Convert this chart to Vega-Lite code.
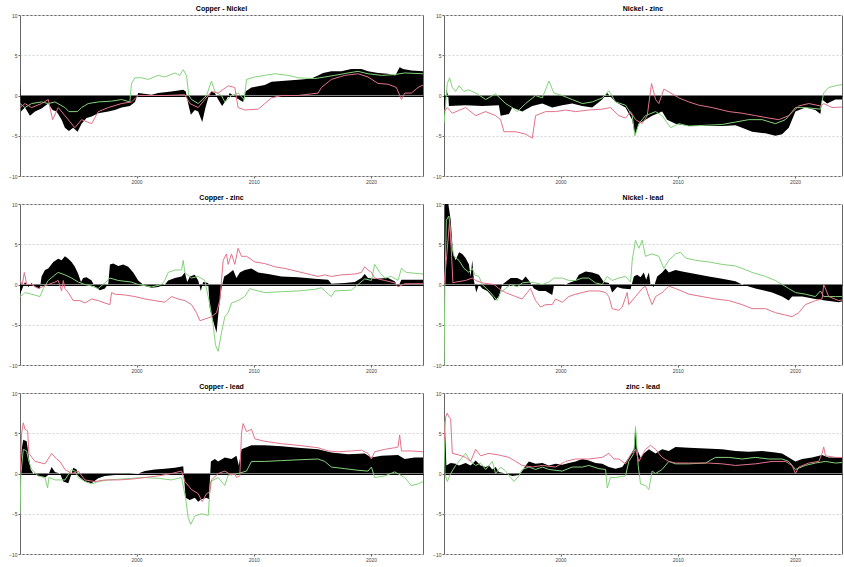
{
"$schema":"https://vega.github.io/schema/vega-lite/v6.json",
"padding":{"left":8,"top":4,"right":0,"bottom":0},
"background":"white",
"columns":2,
"spacing":{"row":8,"column":8},
"datasets":{
"cn_a":[{"t":1990.06,"v":2.0},{"t":1990.14,"v":-2.0},{"t":1990.48,"v":-1.5},{"t":1990.91,"v":-2.5},{"t":1991.34,"v":-2.0},{"t":1991.9,"v":-1.6},{"t":1992.47,"v":-1.0},{"t":1992.84,"v":-1.8},{"t":1993.18,"v":-2.0},{"t":1993.61,"v":-3.0},{"t":1993.89,"v":-4.0},{"t":1994.23,"v":-4.4},{"t":1994.6,"v":-4.0},{"t":1994.97,"v":-4.5},{"t":1995.31,"v":-3.5},{"t":1995.74,"v":-2.8},{"t":1996.17,"v":-2.6},{"t":1996.73,"v":-2.2},{"t":1997.59,"v":-2.0},{"t":1998.15,"v":-1.8},{"t":1998.72,"v":-1.5},{"t":1999.43,"v":-1.3},{"t":1999.86,"v":-0.8},{"t":2000.14,"v":0.3},{"t":2001.28,"v":0.1},{"t":2001.85,"v":0.3},{"t":2002.98,"v":0.5},{"t":2003.98,"v":0.7},{"t":2004.2,"v":0.5},{"t":2004.4,"v":-1.0},{"t":2004.63,"v":-2.4},{"t":2004.97,"v":-1.8},{"t":2005.26,"v":-2.0},{"t":2005.6,"v":-3.3},{"t":2005.88,"v":-1.5},{"t":2006.17,"v":0.0},{"t":2006.39,"v":0.5},{"t":2006.68,"v":0.3},{"t":2006.96,"v":-0.5},{"t":2007.3,"v":-1.3},{"t":2007.67,"v":-0.5},{"t":2007.95,"v":0.3},{"t":2008.24,"v":0.0},{"t":2008.52,"v":-0.3},{"t":2009.09,"v":-0.8},{"t":2009.29,"v":0.5},{"t":2009.8,"v":1.0},{"t":2010.94,"v":1.3},{"t":2011.51,"v":1.7},{"t":2012.36,"v":1.8},{"t":2013.21,"v":1.9},{"t":2014.06,"v":2.0},{"t":2014.91,"v":2.1},{"t":2015.48,"v":2.5},{"t":2015.91,"v":2.8},{"t":2016.62,"v":3.0},{"t":2017.47,"v":3.0},{"t":2018.32,"v":3.3},{"t":2019.18,"v":3.3},{"t":2019.74,"v":3.0},{"t":2020.6,"v":2.8},{"t":2021.45,"v":2.7},{"t":2022.07,"v":2.5},{"t":2022.44,"v":3.5},{"t":2022.73,"v":3.3},{"t":2023.44,"v":3.1},{"t":2024.43,"v":3.0}],
"cn_g":[{"t":1990.06,"v":-1.0},{"t":1990.48,"v":-1.5},{"t":1991.05,"v":-1.0},{"t":1991.9,"v":-0.8},{"t":1992.47,"v":-1.0},{"t":1993.04,"v":-0.8},{"t":1993.89,"v":-1.5},{"t":1994.23,"v":-2.0},{"t":1994.97,"v":-2.0},{"t":1995.31,"v":-1.5},{"t":1995.88,"v":-1.0},{"t":1996.73,"v":-0.8},{"t":1997.87,"v":-0.7},{"t":1998.72,"v":-0.5},{"t":1999.43,"v":-0.8},{"t":1999.57,"v":1.5},{"t":1999.86,"v":2.2},{"t":2000.43,"v":2.2},{"t":2000.99,"v":2.0},{"t":2001.85,"v":2.5},{"t":2002.41,"v":2.3},{"t":2003.27,"v":2.8},{"t":2003.69,"v":2.5},{"t":2003.98,"v":3.2},{"t":2004.26,"v":2.5},{"t":2004.46,"v":0.0},{"t":2004.69,"v":-0.5},{"t":2005.26,"v":-1.0},{"t":2005.97,"v":0.0},{"t":2006.39,"v":1.8},{"t":2006.68,"v":0.5},{"t":2007.24,"v":0.0},{"t":2007.53,"v":-0.8},{"t":2008.1,"v":0.0},{"t":2008.66,"v":0.3},{"t":2009.18,"v":-0.5},{"t":2009.38,"v":2.0},{"t":2010.09,"v":2.3},{"t":2010.94,"v":2.5},{"t":2011.79,"v":2.7},{"t":2012.93,"v":2.5},{"t":2013.78,"v":2.2},{"t":2015.2,"v":2.1},{"t":2016.05,"v":2.3},{"t":2016.9,"v":2.5},{"t":2018.04,"v":2.8},{"t":2018.89,"v":3.0},{"t":2019.74,"v":2.7},{"t":2020.88,"v":2.5},{"t":2022.02,"v":2.6},{"t":2022.87,"v":2.8},{"t":2024.43,"v":2.7}],
"cn_r":[{"t":1990.06,"v":-1.5},{"t":1990.48,"v":-1.0},{"t":1991.05,"v":-1.5},{"t":1991.9,"v":-1.0},{"t":1992.47,"v":-0.5},{"t":1992.84,"v":-3.0},{"t":1993.32,"v":-1.5},{"t":1993.89,"v":-2.5},{"t":1994.74,"v":-4.0},{"t":1995.31,"v":-3.0},{"t":1996.17,"v":-3.5},{"t":1996.73,"v":-2.0},{"t":1997.59,"v":-1.5},{"t":1998.72,"v":-1.0},{"t":1999.57,"v":-0.8},{"t":2000.14,"v":0.0},{"t":2002.41,"v":0.0},{"t":2004.12,"v":0.1},{"t":2004.55,"v":-1.0},{"t":2005.26,"v":-1.5},{"t":2005.82,"v":-0.5},{"t":2006.39,"v":0.5},{"t":2006.96,"v":0.3},{"t":2007.81,"v":1.2},{"t":2008.38,"v":1.0},{"t":2008.66,"v":-1.5},{"t":2009.23,"v":-1.8},{"t":2010.37,"v":-1.7},{"t":2010.94,"v":-1.0},{"t":2011.51,"v":-0.3},{"t":2012.36,"v":0.0},{"t":2013.78,"v":0.0},{"t":2014.91,"v":0.2},{"t":2015.48,"v":0.3},{"t":2015.77,"v":1.0},{"t":2016.62,"v":2.0},{"t":2017.76,"v":2.5},{"t":2018.89,"v":2.7},{"t":2019.74,"v":2.3},{"t":2020.6,"v":1.5},{"t":2021.45,"v":1.4},{"t":2022.16,"v":1.0},{"t":2022.59,"v":-0.5},{"t":2022.87,"v":0.3},{"t":2023.44,"v":0.3},{"t":2024.01,"v":1.0},{"t":2024.43,"v":1.3}],
"nz_a":[{"t":1990.06,"v":-3.5},{"t":1990.26,"v":0.8},{"t":1990.43,"v":-0.2},{"t":1990.48,"v":-1.3},{"t":1991.9,"v":-1.2},{"t":1993.32,"v":-1.3},{"t":1994.74,"v":-1.2},{"t":1994.89,"v":-2.5},{"t":1995.6,"v":-2.3},{"t":1995.88,"v":-1.5},{"t":1996.73,"v":-2.0},{"t":1997.59,"v":-1.3},{"t":1998.44,"v":-1.0},{"t":1999.29,"v":-1.5},{"t":2000.14,"v":-1.2},{"t":2000.99,"v":-1.0},{"t":2001.85,"v":-1.3},{"t":2002.7,"v":-1.5},{"t":2003.55,"v":-0.5},{"t":2003.98,"v":0.3},{"t":2004.69,"v":-0.8},{"t":2005.54,"v":-1.5},{"t":2006.11,"v":-3.0},{"t":2006.34,"v":-5.0},{"t":2006.68,"v":-3.5},{"t":2007.24,"v":-3.0},{"t":2007.81,"v":-2.5},{"t":2008.66,"v":-2.0},{"t":2009.09,"v":-3.0},{"t":2009.8,"v":-3.5},{"t":2010.94,"v":-3.8},{"t":2012.36,"v":-3.8},{"t":2013.78,"v":-3.8},{"t":2014.91,"v":-3.7},{"t":2015.48,"v":-4.0},{"t":2016.34,"v":-4.5},{"t":2017.47,"v":-4.7},{"t":2018.32,"v":-5.0},{"t":2018.89,"v":-4.8},{"t":2019.46,"v":-4.0},{"t":2020.03,"v":-2.0},{"t":2020.88,"v":-1.5},{"t":2021.73,"v":-1.8},{"t":2022.16,"v":-2.3},{"t":2022.3,"v":-0.5},{"t":2022.73,"v":-1.0},{"t":2023.44,"v":-0.5},{"t":2024.43,"v":-0.5}],
"nz_g":[{"t":1990.06,"v":-3.5},{"t":1990.34,"v":1.5},{"t":1990.54,"v":2.2},{"t":1990.77,"v":1.0},{"t":1991.05,"v":0.5},{"t":1991.34,"v":1.2},{"t":1991.76,"v":0.5},{"t":1992.19,"v":0.7},{"t":1992.9,"v":0.2},{"t":1993.61,"v":-0.5},{"t":1994.46,"v":0.2},{"t":1995.31,"v":-1.0},{"t":1995.88,"v":-1.5},{"t":1996.31,"v":-2.0},{"t":1997.02,"v":-1.0},{"t":1997.87,"v":0.0},{"t":1998.44,"v":-0.3},{"t":1999.01,"v":1.8},{"t":1999.43,"v":0.3},{"t":2000.14,"v":0.0},{"t":2000.99,"v":-0.5},{"t":2001.85,"v":-1.0},{"t":2002.7,"v":-0.8},{"t":2003.55,"v":-0.3},{"t":2004.12,"v":0.6},{"t":2004.69,"v":-0.8},{"t":2005.54,"v":-1.2},{"t":2006.11,"v":-2.5},{"t":2006.34,"v":-5.0},{"t":2006.68,"v":-3.5},{"t":2007.24,"v":-2.5},{"t":2008.1,"v":-2.0},{"t":2008.66,"v":-2.5},{"t":2009.38,"v":-4.0},{"t":2010.09,"v":-3.5},{"t":2010.94,"v":-3.8},{"t":2012.36,"v":-3.7},{"t":2013.78,"v":-3.6},{"t":2014.91,"v":-3.3},{"t":2016.05,"v":-3.0},{"t":2017.19,"v":-3.0},{"t":2018.32,"v":-3.5},{"t":2019.18,"v":-3.0},{"t":2020.03,"v":-1.5},{"t":2020.88,"v":-1.5},{"t":2022.16,"v":-1.7},{"t":2022.44,"v":0.3},{"t":2022.87,"v":1.0},{"t":2023.72,"v":1.3},{"t":2024.43,"v":1.4}],
"nz_r":[{"t":1990.06,"v":-2.0},{"t":1990.34,"v":-1.5},{"t":1990.77,"v":-2.2},{"t":1991.9,"v":-1.5},{"t":1992.76,"v":-2.5},{"t":1993.61,"v":-2.0},{"t":1994.46,"v":-2.5},{"t":1994.89,"v":-3.0},{"t":1995.17,"v":-4.5},{"t":1996.17,"v":-4.5},{"t":1997.02,"v":-4.8},{"t":1997.59,"v":-5.3},{"t":1997.87,"v":-2.5},{"t":1998.72,"v":-2.0},{"t":1999.57,"v":-2.0},{"t":2000.43,"v":-1.8},{"t":2001.28,"v":-2.0},{"t":2002.41,"v":-1.8},{"t":2003.55,"v":-1.7},{"t":2004.26,"v":-1.5},{"t":2004.97,"v":-2.5},{"t":2005.54,"v":-2.8},{"t":2005.97,"v":-2.0},{"t":2006.39,"v":-3.0},{"t":2006.96,"v":-3.5},{"t":2007.39,"v":-2.5},{"t":2007.76,"v":1.5},{"t":2008.1,"v":-0.5},{"t":2008.38,"v":-1.0},{"t":2008.81,"v":0.8},{"t":2009.52,"v":0.2},{"t":2010.09,"v":-0.3},{"t":2010.94,"v":-0.8},{"t":2011.79,"v":-1.2},{"t":2012.93,"v":-1.5},{"t":2014.35,"v":-2.0},{"t":2015.48,"v":-2.2},{"t":2016.62,"v":-2.5},{"t":2017.76,"v":-2.8},{"t":2018.61,"v":-3.0},{"t":2019.46,"v":-2.5},{"t":2020.31,"v":-1.3},{"t":2021.17,"v":-1.0},{"t":2022.16,"v":-1.3},{"t":2022.44,"v":-1.0},{"t":2023.15,"v":-1.5},{"t":2024.43,"v":-1.4}],
"cz_a":[{"t":1990.06,"v":-1.2},{"t":1990.26,"v":-0.5},{"t":1990.48,"v":0.3},{"t":1990.77,"v":-0.3},{"t":1991.05,"v":0.2},{"t":1991.34,"v":-0.3},{"t":1991.76,"v":-0.5},{"t":1991.9,"v":1.0},{"t":1992.19,"v":1.8},{"t":1992.47,"v":2.0},{"t":1992.9,"v":2.8},{"t":1993.32,"v":3.2},{"t":1993.61,"v":3.0},{"t":1993.89,"v":3.5},{"t":1994.18,"v":3.2},{"t":1994.46,"v":2.8},{"t":1994.74,"v":2.2},{"t":1995.03,"v":1.3},{"t":1995.26,"v":0.3},{"t":1995.45,"v":0.8},{"t":1995.74,"v":0.9},{"t":1996.17,"v":0.5},{"t":1996.45,"v":-0.3},{"t":1996.88,"v":-0.7},{"t":1997.3,"v":-0.5},{"t":1997.59,"v":0.1},{"t":1997.73,"v":2.5},{"t":1998.01,"v":2.6},{"t":1998.44,"v":2.3},{"t":1998.86,"v":2.5},{"t":1999.29,"v":2.2},{"t":1999.72,"v":1.5},{"t":2000.14,"v":0.5},{"t":2000.71,"v":-0.2},{"t":2001.28,"v":-0.4},{"t":2001.85,"v":-0.3},{"t":2002.41,"v":0.0},{"t":2002.7,"v":0.5},{"t":2003.27,"v":0.8},{"t":2003.84,"v":1.0},{"t":2004.12,"v":1.5},{"t":2004.32,"v":0.3},{"t":2004.55,"v":1.0},{"t":2004.97,"v":1.2},{"t":2005.26,"v":0.5},{"t":2005.48,"v":-0.8},{"t":2005.68,"v":0.3},{"t":2006.11,"v":0.2},{"t":2006.25,"v":-3.0},{"t":2006.53,"v":-4.5},{"t":2006.82,"v":-6.0},{"t":2007.02,"v":-3.0},{"t":2007.24,"v":-0.5},{"t":2007.47,"v":1.0},{"t":2007.81,"v":1.3},{"t":2008.24,"v":1.8},{"t":2008.52,"v":0.8},{"t":2008.81,"v":1.5},{"t":2009.23,"v":1.8},{"t":2009.8,"v":2.0},{"t":2010.37,"v":1.5},{"t":2011.22,"v":1.3},{"t":2012.36,"v":1.0},{"t":2013.78,"v":0.9},{"t":2015.2,"v":0.7},{"t":2016.34,"v":0.6},{"t":2016.62,"v":0.1},{"t":2017.76,"v":0.2},{"t":2018.61,"v":0.3},{"t":2019.18,"v":0.8},{"t":2019.46,"v":1.3},{"t":2019.74,"v":0.8},{"t":2020.31,"v":0.7},{"t":2021.45,"v":0.8},{"t":2022.02,"v":0.4},{"t":2022.3,"v":-0.3},{"t":2022.59,"v":0.6},{"t":2023.44,"v":0.6},{"t":2024.43,"v":0.6}],
"cz_g":[{"t":1990.06,"v":-1.5},{"t":1990.26,"v":-1.3},{"t":1990.48,"v":-1.0},{"t":1991.05,"v":-1.2},{"t":1991.76,"v":-1.5},{"t":1992.05,"v":-0.5},{"t":1992.47,"v":0.5},{"t":1993.04,"v":1.2},{"t":1993.32,"v":1.5},{"t":1993.89,"v":1.2},{"t":1994.46,"v":0.8},{"t":1995.03,"v":0.3},{"t":1995.6,"v":0.0},{"t":1996.17,"v":-0.2},{"t":1996.73,"v":-0.5},{"t":1997.3,"v":0.2},{"t":1997.73,"v":0.8},{"t":1998.44,"v":0.5},{"t":1999.57,"v":0.3},{"t":2000.14,"v":0.0},{"t":2001.28,"v":-0.3},{"t":2002.13,"v":0.0},{"t":2002.41,"v":0.5},{"t":2002.7,"v":1.5},{"t":2003.27,"v":1.8},{"t":2003.84,"v":1.8},{"t":2003.98,"v":3.0},{"t":2004.12,"v":1.5},{"t":2004.69,"v":0.8},{"t":2005.26,"v":1.0},{"t":2005.82,"v":0.5},{"t":2006.25,"v":-2.5},{"t":2006.53,"v":-5.0},{"t":2006.73,"v":-7.5},{"t":2006.96,"v":-8.3},{"t":2007.24,"v":-6.0},{"t":2007.53,"v":-4.0},{"t":2007.81,"v":-3.5},{"t":2008.1,"v":-2.3},{"t":2008.66,"v":-2.0},{"t":2009.23,"v":-1.5},{"t":2009.66,"v":-0.5},{"t":2010.09,"v":-0.7},{"t":2010.94,"v":-1.0},{"t":2012.36,"v":-0.9},{"t":2013.78,"v":-0.8},{"t":2015.2,"v":-0.6},{"t":2015.77,"v":-0.4},{"t":2016.34,"v":-1.2},{"t":2016.62,"v":-1.5},{"t":2016.9,"v":-0.8},{"t":2018.32,"v":-0.7},{"t":2018.89,"v":0.0},{"t":2019.46,"v":0.7},{"t":2020.03,"v":0.5},{"t":2020.31,"v":2.5},{"t":2020.74,"v":1.5},{"t":2021.17,"v":0.8},{"t":2021.73,"v":1.0},{"t":2022.3,"v":0.5},{"t":2022.59,"v":2.0},{"t":2023.01,"v":1.5},{"t":2024.43,"v":1.3}],
"cz_r":[{"t":1990.06,"v":0.5},{"t":1990.26,"v":0.0},{"t":1990.43,"v":1.5},{"t":1990.63,"v":0.0},{"t":1991.05,"v":0.0},{"t":1991.62,"v":-0.5},{"t":1992.47,"v":0.0},{"t":1993.04,"v":0.3},{"t":1993.32,"v":0.5},{"t":1993.61,"v":-0.8},{"t":1993.75,"v":0.5},{"t":1993.89,"v":-0.5},{"t":1994.18,"v":-1.0},{"t":1994.6,"v":-2.0},{"t":1995.17,"v":-2.0},{"t":1995.6,"v":-2.3},{"t":1996.17,"v":-1.8},{"t":1996.73,"v":-2.0},{"t":1997.3,"v":-2.3},{"t":1997.73,"v":-2.5},{"t":1997.87,"v":-1.0},{"t":1998.15,"v":-1.2},{"t":1999.01,"v":-1.3},{"t":1999.86,"v":-1.5},{"t":2000.71,"v":-1.8},{"t":2001.56,"v":-2.0},{"t":2002.41,"v":-2.2},{"t":2002.98,"v":-1.5},{"t":2003.55,"v":-1.8},{"t":2004.12,"v":-2.0},{"t":2004.69,"v":-2.5},{"t":2005.11,"v":-3.5},{"t":2005.4,"v":-4.5},{"t":2005.82,"v":-4.3},{"t":2006.39,"v":-4.0},{"t":2006.82,"v":-3.5},{"t":2007.1,"v":-2.0},{"t":2007.39,"v":3.0},{"t":2007.67,"v":3.8},{"t":2007.81,"v":2.5},{"t":2008.1,"v":3.8},{"t":2008.38,"v":2.5},{"t":2008.66,"v":4.5},{"t":2008.95,"v":3.5},{"t":2009.38,"v":3.5},{"t":2010.09,"v":2.8},{"t":2010.94,"v":2.6},{"t":2011.79,"v":2.2},{"t":2012.64,"v":2.0},{"t":2013.78,"v":1.6},{"t":2014.91,"v":1.2},{"t":2015.48,"v":1.0},{"t":2016.05,"v":1.2},{"t":2016.62,"v":1.0},{"t":2017.47,"v":1.2},{"t":2018.61,"v":1.3},{"t":2019.18,"v":1.5},{"t":2019.46,"v":2.2},{"t":2019.74,"v":1.8},{"t":2020.03,"v":1.5},{"t":2020.31,"v":0.8},{"t":2021.17,"v":0.5},{"t":2022.02,"v":0.2},{"t":2022.3,"v":-0.3},{"t":2022.87,"v":0.1},{"t":2024.43,"v":0.1}],
"nl_a":[{"t":1990.06,"v":0.0},{"t":1990.14,"v":10},{"t":1990.43,"v":10},{"t":1990.63,"v":8.0},{"t":1990.82,"v":4.0},{"t":1991.05,"v":3.0},{"t":1991.34,"v":4.0},{"t":1991.62,"v":3.8},{"t":1991.9,"v":3.3},{"t":1992.19,"v":2.5},{"t":1992.33,"v":1.0},{"t":1992.47,"v":3.0},{"t":1992.61,"v":0.5},{"t":1992.81,"v":-1.0},{"t":1993.04,"v":0.0},{"t":1993.32,"v":-0.5},{"t":1993.75,"v":-0.8},{"t":1994.18,"v":-1.5},{"t":1994.4,"v":-2.0},{"t":1994.74,"v":-1.5},{"t":1995.03,"v":0.0},{"t":1995.31,"v":0.3},{"t":1995.74,"v":0.8},{"t":1996.31,"v":0.8},{"t":1996.73,"v":0.5},{"t":1997.02,"v":1.0},{"t":1997.3,"v":0.5},{"t":1997.73,"v":-0.5},{"t":1998.15,"v":-0.8},{"t":1998.72,"v":-0.8},{"t":1999.29,"v":-1.3},{"t":1999.43,"v":-0.2},{"t":2000.14,"v":-0.2},{"t":2000.71,"v":0.2},{"t":2001.28,"v":0.5},{"t":2001.56,"v":1.2},{"t":2002.13,"v":1.6},{"t":2002.7,"v":1.5},{"t":2003.27,"v":1.2},{"t":2003.69,"v":0.3},{"t":2004.12,"v":0.2},{"t":2004.4,"v":-1.0},{"t":2004.83,"v":-0.3},{"t":2005.26,"v":-0.5},{"t":2005.97,"v":-0.6},{"t":2006.25,"v":1.0},{"t":2006.53,"v":1.2},{"t":2006.82,"v":0.9},{"t":2007.1,"v":1.5},{"t":2007.3,"v":0.6},{"t":2007.53,"v":1.5},{"t":2007.67,"v":0.0},{"t":2007.95,"v":-0.3},{"t":2008.24,"v":1.0},{"t":2008.66,"v":1.5},{"t":2008.95,"v":2.0},{"t":2009.23,"v":1.5},{"t":2009.8,"v":1.8},{"t":2010.37,"v":1.6},{"t":2011.51,"v":1.3},{"t":2012.64,"v":1.0},{"t":2013.78,"v":0.7},{"t":2014.91,"v":0.4},{"t":2015.48,"v":0.0},{"t":2016.62,"v":-0.5},{"t":2018.04,"v":-1.0},{"t":2018.89,"v":-1.5},{"t":2019.46,"v":-2.0},{"t":2019.74,"v":-1.5},{"t":2020.6,"v":-1.5},{"t":2021.73,"v":-1.8},{"t":2022.59,"v":-2.0},{"t":2023.72,"v":-2.2},{"t":2024.43,"v":-2.0}],
"nl_g":[{"t":1990.06,"v":-10},{"t":1990.14,"v":0},{"t":1990.26,"v":8},{"t":1990.48,"v":8.5},{"t":1990.71,"v":5},{"t":1990.91,"v":3.5},{"t":1991.34,"v":3.0},{"t":1991.76,"v":2.0},{"t":1992.19,"v":1.5},{"t":1992.47,"v":2.0},{"t":1992.7,"v":1.2},{"t":1993.04,"v":1.0},{"t":1993.32,"v":0.0},{"t":1993.89,"v":-0.8},{"t":1994.32,"v":-1.5},{"t":1994.6,"v":-2.0},{"t":1994.89,"v":-1.0},{"t":1995.31,"v":-0.5},{"t":1995.74,"v":0.0},{"t":1996.31,"v":-0.3},{"t":1996.73,"v":0.2},{"t":1997.3,"v":0.3},{"t":1997.87,"v":0.2},{"t":1998.44,"v":0.0},{"t":1999.01,"v":0.3},{"t":1999.43,"v":0.8},{"t":2000.14,"v":0.8},{"t":2000.71,"v":0.5},{"t":2001.28,"v":0.5},{"t":2001.85,"v":0.8},{"t":2002.41,"v":0.8},{"t":2002.98,"v":0.2},{"t":2003.55,"v":0.0},{"t":2003.98,"v":1.0},{"t":2004.4,"v":0.5},{"t":2004.97,"v":0.8},{"t":2005.54,"v":1.0},{"t":2005.97,"v":0.3},{"t":2006.11,"v":3.0},{"t":2006.39,"v":5.5},{"t":2006.68,"v":4.5},{"t":2006.96,"v":5.5},{"t":2007.24,"v":3.5},{"t":2007.81,"v":3.8},{"t":2008.38,"v":3.5},{"t":2008.81,"v":2.0},{"t":2009.23,"v":3.0},{"t":2009.8,"v":3.8},{"t":2010.23,"v":4.0},{"t":2010.65,"v":3.3},{"t":2011.51,"v":3.0},{"t":2012.64,"v":2.8},{"t":2013.78,"v":2.5},{"t":2014.91,"v":2.3},{"t":2015.48,"v":2.0},{"t":2016.34,"v":1.5},{"t":2017.47,"v":1.0},{"t":2018.32,"v":0.5},{"t":2018.89,"v":0.0},{"t":2019.46,"v":-0.5},{"t":2020.03,"v":-1.0},{"t":2020.88,"v":-1.2},{"t":2021.73,"v":-1.5},{"t":2022.16,"v":-0.8},{"t":2022.44,"v":-1.5},{"t":2023.44,"v":-1.5},{"t":2024.43,"v":-1.5}],
"nl_r":[{"t":1990.06,"v":0.0},{"t":1990.26,"v":3.0},{"t":1990.54,"v":8.0},{"t":1990.71,"v":3.5},{"t":1990.82,"v":0.2},{"t":1991.05,"v":0.3},{"t":1991.9,"v":0.5},{"t":1992.47,"v":0.8},{"t":1992.76,"v":0.5},{"t":1993.32,"v":0.2},{"t":1994.32,"v":0.0},{"t":1994.74,"v":-0.5},{"t":1995.31,"v":-1.0},{"t":1996.17,"v":-1.5},{"t":1996.73,"v":-1.8},{"t":1997.16,"v":-1.0},{"t":1997.44,"v":-0.5},{"t":1997.87,"v":-2.0},{"t":1998.3,"v":-2.8},{"t":1998.72,"v":-2.5},{"t":1999.29,"v":-2.5},{"t":1999.57,"v":-1.8},{"t":2000.14,"v":-2.2},{"t":2000.71,"v":-1.5},{"t":2001.28,"v":-1.2},{"t":2001.85,"v":-1.0},{"t":2002.41,"v":-0.8},{"t":2003.27,"v":-0.8},{"t":2003.84,"v":-1.0},{"t":2004.12,"v":-1.5},{"t":2004.4,"v":-3.0},{"t":2004.97,"v":-3.2},{"t":2005.26,"v":-2.8},{"t":2005.68,"v":-1.0},{"t":2005.82,"v":-2.5},{"t":2006.39,"v":-1.5},{"t":2006.96,"v":-0.5},{"t":2007.24,"v":-0.2},{"t":2007.53,"v":-1.5},{"t":2007.81,"v":-2.5},{"t":2008.1,"v":-1.5},{"t":2008.66,"v":-1.0},{"t":2009.23,"v":-0.2},{"t":2009.8,"v":-0.5},{"t":2010.94,"v":-1.2},{"t":2012.07,"v":-1.5},{"t":2013.21,"v":-1.8},{"t":2014.35,"v":-2.0},{"t":2015.48,"v":-2.5},{"t":2016.34,"v":-3.0},{"t":2017.47,"v":-3.0},{"t":2018.32,"v":-3.5},{"t":2019.18,"v":-3.8},{"t":2019.74,"v":-4.0},{"t":2020.31,"v":-3.5},{"t":2020.88,"v":-2.5},{"t":2021.73,"v":-2.0},{"t":2022.3,"v":-1.8},{"t":2022.44,"v":0.0},{"t":2022.87,"v":-1.5},{"t":2023.72,"v":-2.0},{"t":2024.43,"v":-1.8}],
"cl_a":[{"t":1990.06,"v":-0.3},{"t":1990.2,"v":3.0},{"t":1990.34,"v":4.2},{"t":1990.63,"v":4.0},{"t":1990.82,"v":2.0},{"t":1990.97,"v":0.5},{"t":1991.19,"v":0.0},{"t":1991.62,"v":-0.3},{"t":1992.19,"v":-0.5},{"t":1992.47,"v":-0.2},{"t":1992.76,"v":0.8},{"t":1993.04,"v":0.2},{"t":1993.47,"v":0.0},{"t":1993.75,"v":-1.0},{"t":1994.18,"v":-1.2},{"t":1994.46,"v":0.0},{"t":1994.6,"v":0.7},{"t":1994.89,"v":0.5},{"t":1995.03,"v":-0.3},{"t":1995.6,"v":-1.0},{"t":1996.17,"v":-1.2},{"t":1996.73,"v":-0.6},{"t":1997.3,"v":-0.3},{"t":1998.15,"v":-0.2},{"t":1999.01,"v":-0.1},{"t":2000.14,"v":0.0},{"t":2000.71,"v":0.3},{"t":2001.56,"v":0.5},{"t":2002.41,"v":0.6},{"t":2003.27,"v":0.7},{"t":2003.98,"v":0.9},{"t":2004.18,"v":-3.0},{"t":2004.55,"v":-3.3},{"t":2004.97,"v":-3.0},{"t":2005.26,"v":-3.5},{"t":2005.54,"v":-3.2},{"t":2005.97,"v":-3.0},{"t":2006.17,"v":-3.2},{"t":2006.34,"v":1.5},{"t":2006.68,"v":1.8},{"t":2006.96,"v":1.5},{"t":2007.53,"v":2.0},{"t":2008.1,"v":1.8},{"t":2008.52,"v":2.2},{"t":2008.72,"v":1.0},{"t":2008.95,"v":3.0},{"t":2009.8,"v":3.5},{"t":2010.94,"v":3.5},{"t":2012.36,"v":3.4},{"t":2013.78,"v":3.2},{"t":2015.48,"v":3.0},{"t":2016.62,"v":2.6},{"t":2018.04,"v":2.4},{"t":2019.46,"v":2.5},{"t":2020.03,"v":2.0},{"t":2020.88,"v":2.2},{"t":2022.3,"v":2.3},{"t":2022.87,"v":1.8},{"t":2023.72,"v":2.0},{"t":2024.43,"v":2.0}],
"cl_g":[{"t":1990.06,"v":-5.0},{"t":1990.14,"v":0.0},{"t":1990.34,"v":3.0},{"t":1990.63,"v":2.8},{"t":1990.82,"v":1.5},{"t":1991.05,"v":0.5},{"t":1991.62,"v":-0.3},{"t":1992.19,"v":-0.5},{"t":1992.41,"v":-1.8},{"t":1992.53,"v":-0.5},{"t":1993.04,"v":-0.8},{"t":1993.89,"v":-0.8},{"t":1994.46,"v":0.5},{"t":1994.74,"v":0.3},{"t":1995.03,"v":-0.5},{"t":1995.6,"v":-1.0},{"t":1996.17,"v":-1.3},{"t":1996.73,"v":-1.0},{"t":1997.59,"v":-0.8},{"t":1999.57,"v":-0.6},{"t":2000.71,"v":-0.5},{"t":2001.85,"v":-0.6},{"t":2002.98,"v":-0.8},{"t":2003.84,"v":-0.5},{"t":2004.18,"v":-3.0},{"t":2004.4,"v":-5.5},{"t":2004.63,"v":-6.3},{"t":2004.97,"v":-5.3},{"t":2005.54,"v":-5.0},{"t":2006.11,"v":-5.2},{"t":2006.31,"v":-1.0},{"t":2006.96,"v":-0.5},{"t":2007.53,"v":-1.5},{"t":2007.81,"v":-0.2},{"t":2008.66,"v":0.0},{"t":2009.38,"v":0.3},{"t":2009.8,"v":1.5},{"t":2010.94,"v":1.5},{"t":2012.36,"v":1.6},{"t":2013.78,"v":1.7},{"t":2015.48,"v":1.8},{"t":2016.05,"v":1.5},{"t":2016.62,"v":0.8},{"t":2017.76,"v":0.6},{"t":2018.89,"v":0.4},{"t":2019.74,"v":0.3},{"t":2020.03,"v":0.8},{"t":2020.31,"v":-0.5},{"t":2021.17,"v":-0.3},{"t":2022.02,"v":0.2},{"t":2022.87,"v":-0.5},{"t":2023.44,"v":-1.5},{"t":2024.01,"v":-1.3},{"t":2024.43,"v":-1.0}],
"cl_r":[{"t":1990.06,"v":0.0},{"t":1990.2,"v":5.0},{"t":1990.34,"v":6.3},{"t":1990.48,"v":5.5},{"t":1990.71,"v":5.3},{"t":1990.82,"v":2.5},{"t":1991.34,"v":1.5},{"t":1992.19,"v":1.2},{"t":1992.76,"v":2.5},{"t":1993.18,"v":1.8},{"t":1993.47,"v":1.5},{"t":1993.89,"v":0.5},{"t":1994.46,"v":0.0},{"t":1995.03,"v":0.3},{"t":1995.6,"v":-0.8},{"t":1996.45,"v":-1.0},{"t":1997.3,"v":-0.8},{"t":1998.44,"v":-0.8},{"t":1999.57,"v":-0.7},{"t":2000.71,"v":-0.5},{"t":2001.85,"v":-0.3},{"t":2002.98,"v":0.0},{"t":2003.84,"v":0.3},{"t":2004.12,"v":-1.0},{"t":2004.69,"v":-2.0},{"t":2005.26,"v":-2.5},{"t":2005.6,"v":-3.5},{"t":2005.97,"v":-2.5},{"t":2006.25,"v":-2.3},{"t":2006.39,"v":-0.8},{"t":2006.96,"v":0.0},{"t":2007.53,"v":0.3},{"t":2008.1,"v":-0.2},{"t":2008.38,"v":0.0},{"t":2008.52,"v":-0.5},{"t":2008.81,"v":-0.3},{"t":2008.95,"v":5.0},{"t":2009.09,"v":6.2},{"t":2009.38,"v":5.2},{"t":2009.8,"v":5.5},{"t":2010.09,"v":4.3},{"t":2010.94,"v":4.0},{"t":2012.36,"v":3.7},{"t":2013.78,"v":3.5},{"t":2015.48,"v":3.2},{"t":2016.34,"v":2.8},{"t":2017.19,"v":2.7},{"t":2018.32,"v":2.8},{"t":2019.18,"v":2.9},{"t":2019.74,"v":2.5},{"t":2020.03,"v":1.8},{"t":2020.31,"v":2.7},{"t":2021.17,"v":3.0},{"t":2022.02,"v":3.2},{"t":2022.3,"v":3.3},{"t":2022.44,"v":4.8},{"t":2022.59,"v":2.8},{"t":2023.44,"v":2.8},{"t":2024.43,"v":2.7}],
"zl_a":[{"t":1990.06,"v":0.0},{"t":1990.14,"v":6.0},{"t":1990.26,"v":1.0},{"t":1990.63,"v":1.3},{"t":1991.05,"v":1.2},{"t":1991.34,"v":1.0},{"t":1991.9,"v":1.3},{"t":1992.33,"v":1.0},{"t":1992.76,"v":1.6},{"t":1993.18,"v":1.0},{"t":1993.61,"v":0.8},{"t":1993.89,"v":1.0},{"t":1994.18,"v":0.5},{"t":1994.46,"v":0.8},{"t":1994.74,"v":0.2},{"t":1995.31,"v":0.0},{"t":1995.88,"v":-0.3},{"t":1996.45,"v":-0.2},{"t":1996.73,"v":0.3},{"t":1997.02,"v":1.0},{"t":1997.3,"v":1.5},{"t":1997.87,"v":1.2},{"t":1998.44,"v":1.3},{"t":1999.01,"v":1.0},{"t":1999.57,"v":1.2},{"t":2000.14,"v":1.1},{"t":2000.71,"v":1.3},{"t":2001.28,"v":1.5},{"t":2001.85,"v":1.8},{"t":2002.41,"v":1.6},{"t":2002.98,"v":1.3},{"t":2003.55,"v":1.2},{"t":2004.12,"v":0.8},{"t":2004.69,"v":0.6},{"t":2005.26,"v":0.8},{"t":2005.82,"v":2.0},{"t":2006.25,"v":3.0},{"t":2006.39,"v":6.0},{"t":2006.53,"v":3.0},{"t":2006.82,"v":2.0},{"t":2007.1,"v":2.5},{"t":2007.53,"v":3.0},{"t":2008.1,"v":2.5},{"t":2008.66,"v":3.0},{"t":2009.23,"v":2.8},{"t":2009.8,"v":3.3},{"t":2010.94,"v":3.2},{"t":2012.36,"v":3.1},{"t":2013.78,"v":3.0},{"t":2014.91,"v":2.8},{"t":2016.05,"v":2.7},{"t":2017.19,"v":2.8},{"t":2018.32,"v":2.6},{"t":2018.89,"v":2.5},{"t":2019.46,"v":2.0},{"t":2020.03,"v":1.5},{"t":2020.6,"v":1.8},{"t":2021.45,"v":2.0},{"t":2022.3,"v":2.3},{"t":2022.87,"v":2.0},{"t":2024.43,"v":2.0}],
"zl_g":[{"t":1990.06,"v":6.5},{"t":1990.14,"v":0.0},{"t":1990.34,"v":-1.0},{"t":1990.63,"v":0.0},{"t":1991.05,"v":1.0},{"t":1991.62,"v":2.0},{"t":1991.9,"v":2.5},{"t":1992.33,"v":1.5},{"t":1992.76,"v":1.0},{"t":1993.18,"v":1.3},{"t":1993.61,"v":0.5},{"t":1994.18,"v":1.5},{"t":1994.46,"v":0.0},{"t":1994.89,"v":0.8},{"t":1995.31,"v":0.3},{"t":1995.74,"v":-0.5},{"t":1996.02,"v":-1.0},{"t":1996.45,"v":-0.3},{"t":1996.73,"v":0.5},{"t":1997.3,"v":0.8},{"t":1997.87,"v":0.5},{"t":1998.44,"v":0.8},{"t":1999.01,"v":0.5},{"t":2000.14,"v":0.3},{"t":2000.99,"v":0.8},{"t":2001.85,"v":0.8},{"t":2002.41,"v":1.0},{"t":2003.27,"v":0.6},{"t":2003.84,"v":0.5},{"t":2003.98,"v":-1.8},{"t":2004.26,"v":-0.5},{"t":2004.69,"v":-0.5},{"t":2005.54,"v":-0.3},{"t":2005.82,"v":1.5},{"t":2006.25,"v":2.5},{"t":2006.39,"v":5.8},{"t":2006.62,"v":1.0},{"t":2006.82,"v":-1.3},{"t":2007.24,"v":-1.5},{"t":2007.53,"v":-2.0},{"t":2007.81,"v":0.3},{"t":2008.1,"v":0.0},{"t":2008.66,"v":0.5},{"t":2009.23,"v":1.5},{"t":2009.8,"v":1.2},{"t":2010.94,"v":1.2},{"t":2012.36,"v":1.3},{"t":2013.21,"v":2.0},{"t":2014.35,"v":2.0},{"t":2015.48,"v":1.8},{"t":2016.62,"v":2.0},{"t":2017.76,"v":1.8},{"t":2018.89,"v":1.8},{"t":2019.46,"v":1.5},{"t":2020.03,"v":0.5},{"t":2020.88,"v":1.0},{"t":2021.73,"v":1.3},{"t":2022.59,"v":1.5},{"t":2023.44,"v":1.3},{"t":2024.43,"v":1.4}],
"zl_r":[{"t":1990.06,"v":4.0},{"t":1990.2,"v":7.0},{"t":1990.34,"v":7.5},{"t":1990.48,"v":7.0},{"t":1990.63,"v":6.8},{"t":1990.77,"v":2.5},{"t":1991.34,"v":2.3},{"t":1991.9,"v":2.0},{"t":1992.33,"v":1.5},{"t":1992.76,"v":3.0},{"t":1993.18,"v":2.2},{"t":1993.89,"v":2.5},{"t":1994.74,"v":2.3},{"t":1995.6,"v":2.0},{"t":1996.17,"v":1.5},{"t":1996.73,"v":1.0},{"t":1997.59,"v":0.8},{"t":1998.44,"v":1.0},{"t":1999.57,"v":0.8},{"t":2000.43,"v":1.5},{"t":2001.28,"v":1.8},{"t":2002.41,"v":1.8},{"t":2003.55,"v":2.0},{"t":2004.12,"v":2.5},{"t":2004.55,"v":1.8},{"t":2004.97,"v":1.8},{"t":2005.54,"v":1.2},{"t":2005.97,"v":2.3},{"t":2006.39,"v":3.0},{"t":2006.68,"v":1.5},{"t":2007.24,"v":3.0},{"t":2007.67,"v":3.5},{"t":2008.1,"v":3.0},{"t":2008.66,"v":2.0},{"t":2009.23,"v":1.5},{"t":2009.8,"v":1.3},{"t":2010.94,"v":1.3},{"t":2012.64,"v":1.3},{"t":2013.78,"v":1.2},{"t":2014.91,"v":1.0},{"t":2016.62,"v":1.2},{"t":2018.04,"v":1.5},{"t":2019.18,"v":1.5},{"t":2019.74,"v":1.0},{"t":2020.03,"v":0.0},{"t":2020.31,"v":0.8},{"t":2021.17,"v":1.3},{"t":2022.02,"v":1.5},{"t":2022.3,"v":2.5},{"t":2022.44,"v":3.3},{"t":2022.59,"v":2.2},{"t":2023.44,"v":2.0},{"t":2024.43,"v":2.0}]
},
"concat":[
{"title":"Copper - Nickel","width":403,"height":161,
"encoding":{"x":{"field":"t","type":"quantitative","title":null,"scale":{"domain":[1990.06,2024.43],"nice":false,"zero":false},"axis":{"values":[2000,2010,2020],"format":"d"}},"y":{"field":"v","type":"quantitative","title":null,"scale":{"domain":[-10,10],"nice":false},"axis":{"values":[-10,-5,0,5,10],"gridColor":{"condition":{"test":"datum.value===0","value":"#000000"},"value":"#d4d4d4"},"gridDash":{"condition":{"test":"datum.value===0","value":[]},"value":[2,2]}}}},
"layer":[
{"data":{"name":"cn_a"},"mark":{"type":"area","color":"#000000","opacity":1,"clip":true}},
{"data":{"name":"cn_g"},"mark":{"type":"line","color":"#84d27a","strokeWidth":1,"clip":true}},
{"data":{"name":"cn_r"},"mark":{"type":"line","color":"#e3728a","strokeWidth":1,"clip":true}}]},
{"title":"Nickel - zinc","width":398,"height":161,
"encoding":{"x":{"field":"t","type":"quantitative","title":null,"scale":{"domain":[1990.06,2024.0],"nice":false,"zero":false},"axis":{"values":[2000,2010,2020],"format":"d"}},"y":{"field":"v","type":"quantitative","title":null,"scale":{"domain":[-10,10],"nice":false},"axis":{"values":[-10,-5,0,5,10],"gridColor":{"condition":{"test":"datum.value===0","value":"#000000"},"value":"#d4d4d4"},"gridDash":{"condition":{"test":"datum.value===0","value":[]},"value":[2,2]}}}},
"layer":[
{"data":{"name":"nz_a"},"mark":{"type":"area","color":"#000000","opacity":1,"clip":true}},
{"data":{"name":"nz_g"},"mark":{"type":"line","color":"#84d27a","strokeWidth":1,"clip":true}},
{"data":{"name":"nz_r"},"mark":{"type":"line","color":"#e3728a","strokeWidth":1,"clip":true}}]},
{"title":"Copper - zinc","width":403,"height":161,
"encoding":{"x":{"field":"t","type":"quantitative","title":null,"scale":{"domain":[1990.06,2024.43],"nice":false,"zero":false},"axis":{"values":[2000,2010,2020],"format":"d"}},"y":{"field":"v","type":"quantitative","title":null,"scale":{"domain":[-10,10],"nice":false},"axis":{"values":[-10,-5,0,5,10],"gridColor":{"condition":{"test":"datum.value===0","value":"#000000"},"value":"#d4d4d4"},"gridDash":{"condition":{"test":"datum.value===0","value":[]},"value":[2,2]}}}},
"layer":[
{"data":{"name":"cz_a"},"mark":{"type":"area","color":"#000000","opacity":1,"clip":true}},
{"data":{"name":"cz_g"},"mark":{"type":"line","color":"#84d27a","strokeWidth":1,"clip":true}},
{"data":{"name":"cz_r"},"mark":{"type":"line","color":"#e3728a","strokeWidth":1,"clip":true}}]},
{"title":"Nickel - lead","width":398,"height":161,
"encoding":{"x":{"field":"t","type":"quantitative","title":null,"scale":{"domain":[1990.06,2024.0],"nice":false,"zero":false},"axis":{"values":[2000,2010,2020],"format":"d"}},"y":{"field":"v","type":"quantitative","title":null,"scale":{"domain":[-10,10],"nice":false},"axis":{"values":[-10,-5,0,5,10],"gridColor":{"condition":{"test":"datum.value===0","value":"#000000"},"value":"#d4d4d4"},"gridDash":{"condition":{"test":"datum.value===0","value":[]},"value":[2,2]}}}},
"layer":[
{"data":{"name":"nl_a"},"mark":{"type":"area","color":"#000000","opacity":1,"clip":true}},
{"data":{"name":"nl_g"},"mark":{"type":"line","color":"#84d27a","strokeWidth":1,"clip":true}},
{"data":{"name":"nl_r"},"mark":{"type":"line","color":"#e3728a","strokeWidth":1,"clip":true}}]},
{"title":"Copper - lead","width":403,"height":161,
"encoding":{"x":{"field":"t","type":"quantitative","title":null,"scale":{"domain":[1990.06,2024.43],"nice":false,"zero":false},"axis":{"values":[2000,2010,2020],"format":"d"}},"y":{"field":"v","type":"quantitative","title":null,"scale":{"domain":[-10,10],"nice":false},"axis":{"values":[-10,-5,0,5,10],"gridColor":{"condition":{"test":"datum.value===0","value":"#000000"},"value":"#d4d4d4"},"gridDash":{"condition":{"test":"datum.value===0","value":[]},"value":[2,2]}}}},
"layer":[
{"data":{"name":"cl_a"},"mark":{"type":"area","color":"#000000","opacity":1,"clip":true}},
{"data":{"name":"cl_g"},"mark":{"type":"line","color":"#84d27a","strokeWidth":1,"clip":true}},
{"data":{"name":"cl_r"},"mark":{"type":"line","color":"#e3728a","strokeWidth":1,"clip":true}}]},
{"title":"zinc - lead","width":398,"height":161,
"encoding":{"x":{"field":"t","type":"quantitative","title":null,"scale":{"domain":[1990.06,2024.0],"nice":false,"zero":false},"axis":{"values":[2000,2010,2020],"format":"d"}},"y":{"field":"v","type":"quantitative","title":null,"scale":{"domain":[-10,10],"nice":false},"axis":{"values":[-10,-5,0,5,10],"gridColor":{"condition":{"test":"datum.value===0","value":"#000000"},"value":"#d4d4d4"},"gridDash":{"condition":{"test":"datum.value===0","value":[]},"value":[2,2]}}}},
"layer":[
{"data":{"name":"zl_a"},"mark":{"type":"area","color":"#000000","opacity":1,"clip":true}},
{"data":{"name":"zl_g"},"mark":{"type":"line","color":"#84d27a","strokeWidth":1,"clip":true}},
{"data":{"name":"zl_r"},"mark":{"type":"line","color":"#e3728a","strokeWidth":1,"clip":true}}]}
],
"config":{
"view":{"stroke":"#666666","strokeWidth":1},
"title":{"fontSize":7,"fontWeight":"bold","font":"Liberation Sans","color":"#000000","offset":1,"anchor":"middle"},
"axis":{"labelFontSize":5,"labelFont":"Liberation Sans","labelColor":"#444444","tickSize":2,"tickColor":"#666666","labelPadding":1,"domain":false},
"axisX":{"grid":false},
"axisY":{"grid":true}
}
}
